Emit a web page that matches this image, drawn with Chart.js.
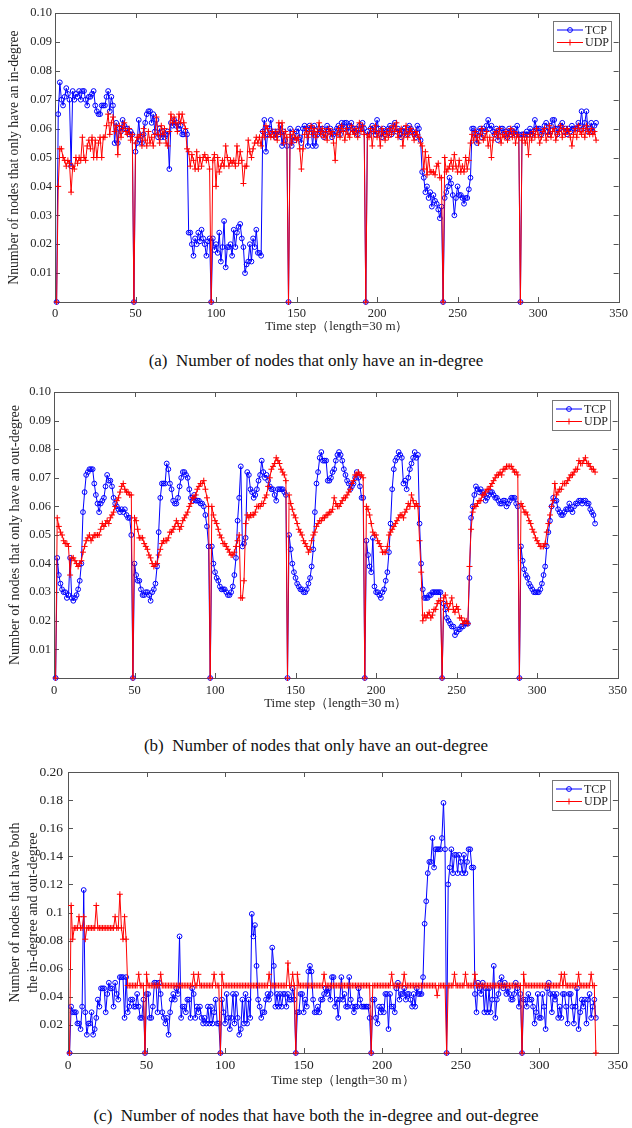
<!DOCTYPE html>
<html>
<head>
<meta charset="utf-8">
<script src="https://cdn.jsdelivr.net/npm/chart.js@4.4.1/dist/chart.umd.min.js"></script>
<style>
  body { margin: 0; background: #fff; width: 632px; height: 1128px; position: relative; overflow: hidden; font-family: "Liberation Serif", "Times New Roman", serif; }
  .panel { position: absolute; left: 0; width: 632px; }
  .caption { position: absolute; left: 0; width: 632px; text-align: center; font-size: 17px; line-height: 20px; color: #111; }
</style>
</head>
<body>

<div class="panel" style="top:0px"><canvas id="chartIn" width="632" height="340"></canvas></div>
<div class="caption" style="top:351px">(a)&nbsp; Number of nodes that only have an in-degree</div>

<div class="panel" style="top:370px"><canvas id="chartOut" width="632" height="345"></canvas></div>
<div class="caption" style="top:736px">(b)&nbsp; Number of nodes that only have an out-degree</div>

<div class="panel" style="top:755px"><canvas id="chartBoth" width="632" height="340"></canvas></div>
<div class="caption" style="top:1106px">(c)&nbsp; Number of nodes that have both the in-degree and out-degree</div>

<script>
// One row per simulated day (48 steps of 30 min), 336 time steps in total.

// (a) nodes that only have an in-degree
const tcpInDegree = [
  0,65,76,70,68,71,74,72,70,47,73,70,72,71,73,70,73,73,70,68,71,71,72,73,68,66,65,65,68,68,68,71,73,66,71,68,55,62,55,60,59,63,61,60,60,58,59,58,
  0,52,55,63,56,55,58,62,65,66,66,62,65,59,63,57,60,57,59,57,58,59,46,62,61,63,61,62,60,61,58,58,59,58,24,24,20,16,22,20,24,21,25,22,20,16,21,22,
  0,22,18,20,17,24,14,19,28,12,19,19,20,16,25,19,24,26,27,22,19,10,13,14,20,14,22,19,25,17,17,16,59,63,52,58,60,63,58,59,57,59,58,61,54,59,56,54,
  0,60,54,57,56,59,60,57,55,60,61,60,54,61,60,54,61,54,58,60,59,60,57,58,61,59,60,57,58,59,60,61,58,62,60,62,62,59,61,62,60,59,60,58,61,60,62,60,
  0,59,58,60,61,59,58,63,60,58,57,60,58,59,60,61,58,60,62,59,60,58,57,59,60,59,58,61,60,59,58,57,61,60,56,45,43,38,40,36,38,33,37,35,34,32,29,33,
  0,36,38,40,43,41,37,30,36,40,37,37,36,34,36,36,39,43,60,60,58,55,59,60,57,60,59,61,63,60,61,59,58,60,56,59,60,60,58,59,57,60,58,59,60,58,61,58,
  0,58,58,58,59,58,60,58,59,63,60,60,60,58,59,61,62,59,58,61,63,63,60,58,60,61,62,59,60,58,60,59,61,60,60,60,62,61,66,60,62,66,59,60,62,59,61,62
];
const udpInDegree = [
  0,40,53,53,50,49,47,49,48,38,47,46,50,48,50,49,57,50,49,54,56,53,57,50,56,50,55,57,50,57,57,61,65,58,62,64,59,61,51,61,57,60,62,59,58,60,56,58,
  0,55,57,57,58,54,60,56,54,59,55,57,54,58,64,58,55,61,58,60,55,54,59,65,62,64,62,59,65,62,65,62,60,53,52,47,51,49,46,52,46,50,47,50,51,49,50,46,
  0,49,51,40,50,45,47,49,47,54,50,47,49,48,49,47,54,48,52,49,41,47,47,56,52,50,53,55,57,55,57,54,59,57,61,60,58,57,59,57,59,56,62,58,62,55,59,57,
  0,58,55,59,57,56,57,53,46,53,58,60,57,59,61,58,60,57,59,62,58,60,57,59,56,60,58,59,55,49,58,60,57,61,59,56,60,58,57,61,59,58,60,57,62,59,61,58,
  0,58,57,60,54,59,61,57,59,54,60,58,56,59,57,60,58,61,59,62,57,59,60,54,58,61,57,59,60,58,56,59,58,57,55,54,46,52,44,50,45,45,45,44,47,48,43,43,
  0,50,45,46,47,49,46,51,47,45,49,45,47,45,50,46,49,55,58,56,59,57,55,58,60,56,57,59,54,57,50,56,58,59,57,60,55,58,57,59,56,58,60,57,59,55,58,57,
  0,56,58,55,57,51,58,56,59,57,60,58,55,57,59,60,56,58,61,57,59,60,56,58,59,61,57,60,58,60,59,57,54,58,60,57,61,59,58,60,57,61,59,58,60,58,59,56
];

// (b) nodes that only have an out-degree
const tcpOutDegree = [
  0,42,36,33,31,30,30,28,29,42,28,27,28,29,31,34,40,58,65,71,72,73,73,73,68,64,61,58,61,62,63,67,71,69,69,67,63,61,60,59,58,59,58,59,57,56,56,50,
  0,40,36,34,34,31,29,29,30,30,29,27,30,31,33,39,51,63,68,68,68,75,73,68,66,62,61,61,63,67,70,72,72,71,70,66,63,62,64,62,62,62,61,61,60,57,53,46,
  0,46,40,37,35,34,32,31,31,31,30,29,29,30,32,36,42,55,63,74,46,47,49,72,71,66,65,63,64,66,69,71,76,72,70,71,69,67,66,66,64,62,66,66,66,66,65,64,
  0,50,45,40,37,35,33,32,31,31,30,30,31,33,35,39,45,58,68,72,77,79,76,76,76,69,69,70,72,73,76,78,79,78,76,73,71,69,68,66,67,68,70,72,70,67,63,63,
  0,48,43,39,37,49,32,30,30,29,28,30,31,34,37,44,54,66,73,76,77,79,78,77,68,69,66,70,73,75,77,79,77,78,54,40,31,28,28,28,29,29,30,30,30,30,30,30,
  0,26,24,21,20,19,18,18,15,16,17,17,18,18,19,19,19,35,56,60,64,67,66,65,66,65,64,62,63,64,65,65,64,63,63,62,61,61,62,62,60,61,62,63,63,63,61,60,
  0,46,41,38,36,35,33,32,31,30,30,30,30,31,33,36,39,46,51,55,60,63,62,62,59,58,57,57,58,59,59,61,59,58,60,61,61,62,62,61,62,62,61,61,59,58,57,54
];
const udpOutDegree = [
  0,56,53,51,50,48,47,47,46,36,42,42,41,40,39,40,41,44,46,48,49,50,48,49,50,50,50,50,52,54,53,54,55,54,56,57,58,60,62,63,65,67,68,66,65,65,64,64,
  0,56,55,52,49,49,49,47,46,45,43,42,40,39,40,40,43,45,47,48,48,48,49,51,51,52,53,55,54,52,53,55,56,57,58,60,61,63,63,64,66,67,68,68,69,66,63,60,
  0,60,57,55,54,52,50,49,47,47,46,45,44,43,43,44,46,48,50,28,28,34,54,57,56,57,57,57,58,60,60,60,61,61,63,64,67,70,73,74,75,77,76,75,73,72,71,69,
  0,64,61,59,57,56,54,52,51,50,48,47,46,44,45,48,50,51,53,54,55,55,56,56,57,57,58,58,59,63,61,60,60,61,62,63,63,64,65,66,68,69,71,71,72,71,71,70,
  0,60,59,57,54,51,50,50,48,47,46,44,44,44,46,50,51,52,53,54,55,56,57,57,56,58,59,61,60,64,62,60,61,60,48,37,20,22,21,22,23,21,22,24,24,26,27,27,
  0,28,29,26,24,26,28,24,23,25,24,21,21,19,20,20,19,39,52,58,60,60,61,62,62,64,64,65,66,66,67,68,69,70,71,71,72,71,73,73,74,74,74,74,73,72,72,71,
  0,61,60,58,58,57,55,54,52,51,49,48,47,46,46,46,47,51,54,57,60,62,68,64,65,66,66,68,68,68,69,70,71,71,72,73,73,76,75,75,76,77,75,75,74,73,73,72
];

// (c) nodes that have both an in-degree and an out-degree
const tcpBothDegree = [
  0,33,29,29,29,21,21,17,33,116,29,13,21,21,29,13,17,25,38,33,46,46,46,29,42,50,46,46,33,50,42,38,54,54,54,25,54,29,33,38,38,33,33,42,33,25,25,38,
  0,42,42,25,25,33,50,50,29,50,42,29,25,21,25,13,29,38,42,38,46,42,83,25,33,33,29,38,38,25,46,42,25,33,29,33,25,21,25,21,33,21,33,21,29,38,21,21,
  0,38,29,21,42,25,17,25,42,21,42,25,13,17,38,21,42,21,38,25,99,83,91,62,38,33,25,29,29,38,42,38,42,75,62,33,42,33,42,33,42,42,33,42,38,38,46,38,
  0,29,29,42,42,29,38,33,58,62,58,38,29,29,33,29,38,38,42,46,42,46,38,54,54,33,38,25,38,54,38,42,33,33,54,38,33,29,33,33,46,38,33,33,33,33,33,25,
  0,38,38,25,21,33,29,33,29,42,42,17,42,33,33,29,46,50,38,42,42,46,38,42,42,38,33,42,33,46,42,42,42,54,92,108,128,136,136,153,132,145,145,145,145,153,178,145,
  0,120,132,145,128,141,141,128,141,136,128,141,128,136,145,145,132,132,42,29,50,46,42,50,29,46,29,46,29,38,62,25,38,42,50,54,46,50,42,46,42,38,38,42,50,46,33,42,
  0,38,38,33,42,38,38,33,21,29,42,25,25,42,33,17,46,50,42,29,42,38,42,25,33,25,42,42,33,21,42,42,33,21,33,46,17,29,38,33,38,21,38,42,25,33,38,25
];
const udpBothDegree = [
  0,105,81,89,89,89,97,89,89,97, 81,89,89,89,89,89,89,105,89,89, 89,89,89,89,89,89,89,89,89,97, 89,89,113,89,81,97,81,48,48,48, 48,48,48,48,56,48,48,48,
  0,56,48,48,48,48,48,48,48,48, 56,48,48,48,48,48,48,48,48,48, 48,48,48,48,48,48,48,48,48,48, 48,56,48,48,56,48,48,48,48,48, 48,48,48,48,56,48,48,48,
  0,56,48,48,48,48,48,48,48,48, 48,48,48,48,48,48,48,48,48,48, 48,48,48,48,48,48,48,48,48,48, 48,56,48,48,48,48,48,48,48,48, 48,48,48,64,48,48,56,48,
  0,56,48,48,48,48,48,48,48,48, 48,48,48,48,48,48,48,48,56,48, 48,48,48,48,48,48,48,48,48,48, 48,48,48,48,48,48,48,48,48,48, 48,48,48,48,48,48,48,48,
  0,48,48,48,48,48,48,48,48,48, 48,48,48,56,48,48,48,48,48,48, 48,56,48,48,48,48,48,48,48,48, 48,48,48,48,48,48,48,48,48,48, 48,48,41,48,48,48,48,48,
  0,48,48,48,48,56,48,48,48,48, 48,48,56,48,48,48,48,48,56,48, 48,48,48,48,48,48,48,48,48,48, 48,48,48,48,48,48,48,48,48,48, 48,48,48,48,48,48,48,48,
  0,56,48,48,48,48,48,48,48,48, 48,48,48,48,48,48,48,48,48,48, 48,48,48,48,48,56,48,56,48,48, 48,48,48,48,48,48,56,48,48,48, 48,48,48,48,56,48,48,0
];

// x categories: time steps 1..336
const timeSteps = Array.from({ length: tcpInDegree.length }, (_, i) => i + 1);

const xTickLabels = [0, 50, 100, 150, 200, 250, 300, 350];
const serif = '"Liberation Serif", "Times New Roman", serif';
const axisColor = '#555';
const textColor = '#262626';

function toPoints(values) {
    return values.map((v, i) => ({ x: timeSteps[i], y: v / 1000 }));
}

// MATLAB-like box with inward ticks on all four sides
const framePlugin = {
    id: 'frame',
    beforeDatasetsDraw(chart) {
        const { ctx, chartArea: a, scales } = chart;
        const len = 5;
        ctx.save();
        ctx.strokeStyle = axisColor;
        ctx.lineWidth = 1;
        ctx.strokeRect(Math.round(a.left) + 0.5, Math.round(a.top) + 0.5, Math.round(a.right - a.left), Math.round(a.bottom - a.top));
        ctx.beginPath();
        scales.x.ticks.forEach(t => {
            const px = Math.round(scales.x.getPixelForValue(t.value)) + 0.5;
            ctx.moveTo(px, a.bottom); ctx.lineTo(px, a.bottom - len);
            ctx.moveTo(px, a.top); ctx.lineTo(px, a.top + len);
        });
        scales.y.ticks.forEach(t => {
            const py = Math.round(scales.y.getPixelForValue(t.value)) + 0.5;
            ctx.moveTo(a.left, py); ctx.lineTo(a.left + len, py);
            ctx.moveTo(a.right, py); ctx.lineTo(a.right - len, py);
        });
        ctx.stroke();
        ctx.restore();
    }
};

// boxed legend in the top right corner of the plot
const boxLegendPlugin = {
    id: 'boxLegend',
    afterDraw(chart) {
        const { ctx, chartArea: a } = chart;
        const w = 58, h = 30;
        const x0 = Math.round(a.right) - 8 - w;
        const y0 = Math.round(a.top) + 8;
        ctx.save();
        ctx.fillStyle = '#fff';
        ctx.fillRect(x0, y0, w, h);
        ctx.strokeStyle = '#777';
        ctx.lineWidth = 1;
        ctx.strokeRect(x0 + 0.5, y0 + 0.5, w, h);
        chart.data.datasets.forEach((ds, i) => {
            const y = y0 + 9 + i * 12.5;
            ctx.strokeStyle = ds.borderColor;
            ctx.beginPath();
            ctx.moveTo(x0 + 4, y); ctx.lineTo(x0 + 30, y);
            ctx.stroke();
            ctx.beginPath();
            if (ds.pointStyle === 'circle') {
                ctx.arc(x0 + 17, y, 2.4, 0, Math.PI * 2);
            } else {
                ctx.moveTo(x0 + 14, y); ctx.lineTo(x0 + 20, y);
                ctx.moveTo(x0 + 17, y - 3); ctx.lineTo(x0 + 17, y + 3);
            }
            ctx.stroke();
            ctx.fillStyle = textColor;
            ctx.font = '12px ' + serif;
            ctx.textBaseline = 'middle';
            ctx.fillText(ds.label, x0 + 32, y + 0.5);
        });
        ctx.restore();
    }
};

function makeChart(id, tcp, udp, cfg) {
    return new Chart(document.getElementById(id), {
        type: 'line',
        data: {
            datasets: [{
                label: 'TCP',
                data: toPoints(tcp),
                borderColor: '#0000ff',
                borderWidth: 1,
                pointStyle: 'circle',
                pointRadius: 2.4,
                pointBorderWidth: 1,
                pointBorderColor: '#0000ff',
                pointBackgroundColor: 'rgba(0,0,0,0)',
                clip: false,
                order: 1
            }, {
                label: 'UDP',
                data: toPoints(udp),
                borderColor: '#ff0000',
                borderWidth: 1,
                pointStyle: 'cross',
                pointRadius: 3,
                pointBorderWidth: 1,
                pointBorderColor: '#ff0000',
                clip: false,
                order: 0
            }]
        },
        options: {
            responsive: false,
            animation: false,
            elements: { line: { tension: 0 } },
            layout: { padding: { top: cfg.top, right: cfg.right, left: 0, bottom: 0 } },
            plugins: { legend: { display: false }, tooltip: { enabled: false } },
            scales: {
                x: {
                    type: 'linear',
                    min: 0,
                    max: 350,
                    afterBuildTicks: s => { s.ticks = xTickLabels.map(v => ({ value: v })); },
                    ticks: { padding: cfg.xPad, color: textColor, font: { family: serif, size: cfg.tickSize }, maxRotation: 0 },
                    grid: { display: false, drawTicks: false },
                    border: { display: false },
                    title: {
                        display: true,
                        text: 'Time step（length=30 m）',
                        color: textColor,
                        font: { family: serif, size: 13 },
                        padding: { top: 0, bottom: cfg.xTitlePad }
                    },
                    afterFit: s => { s.height = cfg.xHeight; }
                },
                y: {
                    min: 0,
                    max: cfg.yMax,
                    afterBuildTicks: s => { s.ticks = cfg.yTicks.map(v => ({ value: v })); },
                    ticks: {
                        padding: cfg.yPad,
                        color: textColor,
                        font: { family: serif, size: cfg.tickSize },
                        callback: cfg.yLabel
                    },
                    grid: { display: false, drawTicks: false },
                    border: { display: false },
                    title: {
                        display: true,
                        text: cfg.yTitle,
                        color: textColor,
                        font: { family: serif, size: cfg.yTitleSize, lineHeight: 1.3 },
                        padding: { top: cfg.yTitlePad, bottom: 0 }
                    },
                    afterFit: s => { s.width = cfg.left; }
                }
            }
        },
        plugins: [framePlugin, boxLegendPlugin]
    });
}

const yTicksTenth = [0, 0.01, 0.02, 0.03, 0.04, 0.05, 0.06, 0.07, 0.08, 0.09, 0.10];
const yTicksFifth = [0, 0.02, 0.04, 0.06, 0.08, 0.10, 0.12, 0.14, 0.16, 0.18, 0.20];

makeChart('chartIn', tcpInDegree, udpInDegree, {
    top: 13, right: 8, left: 55, xHeight: 38, xPad: 4, xTitlePad: 6,
    tickSize: 12.5, yPad: 3,
    yMax: 0.10, yTicks: yTicksTenth, yTitleSize: 13.7, yTitlePad: 5,
    yTitle: 'Nnumber of nodes that only have an in-degree',
    yLabel: v => v === 0 ? '' : v.toFixed(2)
});

makeChart('chartOut', tcpOutDegree, udpOutDegree, {
    top: 22, right: 11, left: 54, xHeight: 37, xPad: 5, xTitlePad: 4,
    tickSize: 12.5, yPad: 3,
    yMax: 0.10, yTicks: yTicksTenth, yTitleSize: 14, yTitlePad: 6,
    yTitle: 'Number of nodes that only have an out-degree',
    yLabel: v => v === 0 ? '' : v.toFixed(2)
});

makeChart('chartBoth', tcpBothDegree, udpBothDegree, {
    top: 17, right: 10, left: 68, xHeight: 42, xPad: 4, xTitlePad: 7,
    tickSize: 13.5, yPad: 5,
    yMax: 0.20, yTicks: yTicksFifth, yTitleSize: 14, yTitlePad: 6,
    yTitle: ['Number of nodes that have both', 'the in-degree and out-degree'],
    yLabel: v => v === 0 ? '' : (Math.abs(v - 0.1) < 1e-9 ? '0.1' : v.toFixed(2))
});
</script>
</body>
</html>
